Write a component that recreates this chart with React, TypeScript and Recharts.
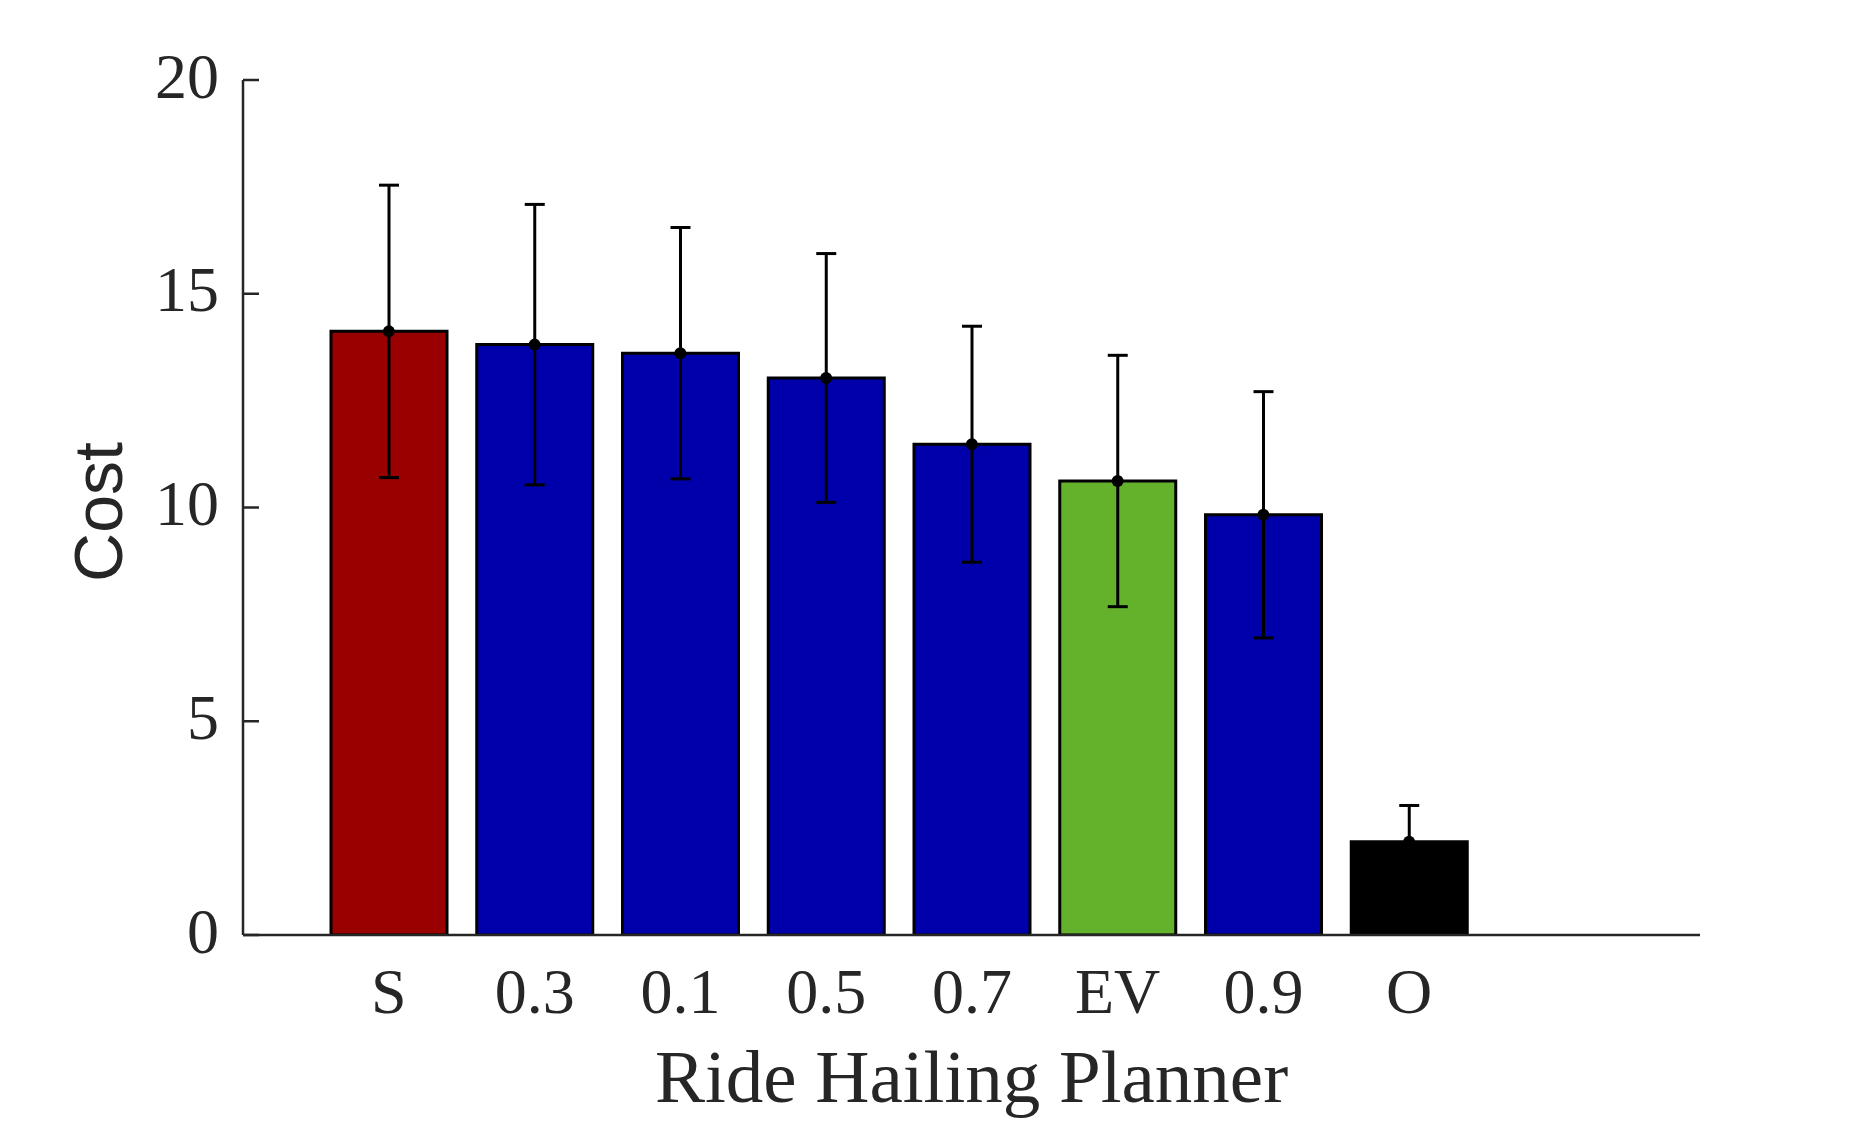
import { ComposedChart, Bar, Line, XAxis, YAxis, Cell, ErrorBar, Label } from 'recharts';

const planners = ['S', '0.3', '0.1', '0.5', '0.7', 'EV', '0.9', 'O'];
const meanCost = [14.12, 13.81, 13.61, 13.03, 11.48, 10.62, 9.83, 2.18];
const costStd = [3.42, 3.28, 2.94, 2.91, 2.76, 2.94, 2.88, 0.85];
const barColors = ['#990000', '#0000AA', '#0000AA', '#0000AA', '#0000AA', '#64B22C', '#0000AA', '#000000'];
const yTicks = [0, 5, 10, 15, 20];

const data = planners.map((name, i) => ({ name, cost: meanCost[i], err: costStd[i] }));

const AXIS = '#262626';
const SERIF = '"Liberation Serif", "Times New Roman", serif';

export default function App() {
  return (
    <div style={{ position: 'absolute', left: 0, top: 0, background: '#fff' }}>
      <ComposedChart
        width={1875}
        height={1125}
        data={data}
        margin={{ top: 80, left: 143, right: 175, bottom: 75 }}
      >
        <XAxis
          dataKey="name"
          height={115}
          padding={{ left: 73, right: 218 }}
          axisLine={{ stroke: AXIS, strokeWidth: 2.5 }}
          tickLine={false}
          tickSize={0}
          tickMargin={33}
          tick={{ fill: AXIS, fontSize: 64, fontFamily: SERIF }}
          interval={0}
        >
          <Label
            value="Ride Hailing Planner"
            position="bottom"
            offset={-1}
            style={{ fill: AXIS, fontSize: 75, fontFamily: SERIF }}
          />
        </XAxis>
        <YAxis
          width={100}
          domain={[0, 20]}
          ticks={yTicks}
          allowDataOverflow
          axisLine={{ stroke: AXIS, strokeWidth: 2.5 }}
          tickLine={{ stroke: AXIS, strokeWidth: 2.5 }}
          tickSize={-16}
          tickMargin={40}
          tick={{ fill: AXIS, fontSize: 64, fontFamily: SERIF, dy: -5 }}
        >
          <Label
            content={() => (
              <text
                transform="translate(122,512) rotate(-90)"
                textAnchor="middle"
                fill={AXIS}
                style={{ fontSize: 68, fontFamily: '"Liberation Sans", Arial, sans-serif' }}
              >
                Cost
              </text>
            )}
          />
        </YAxis>
        <Bar dataKey="cost" barSize={116} stroke="#000" strokeWidth={3} isAnimationActive={false}>
          {data.map((d, i) => (
            <Cell key={d.name} fill={barColors[i]} />
          ))}
          <ErrorBar dataKey="err" width={10} stroke="#000" strokeWidth={3} isAnimationActive={false} />
        </Bar>
        <Line
          dataKey="cost"
          stroke="none"
          strokeWidth={0}
          dot={{ r: 6, fill: '#000', stroke: 'none' }}
          activeDot={false}
          isAnimationActive={false}
        />
      </ComposedChart>
    </div>
  );
}
